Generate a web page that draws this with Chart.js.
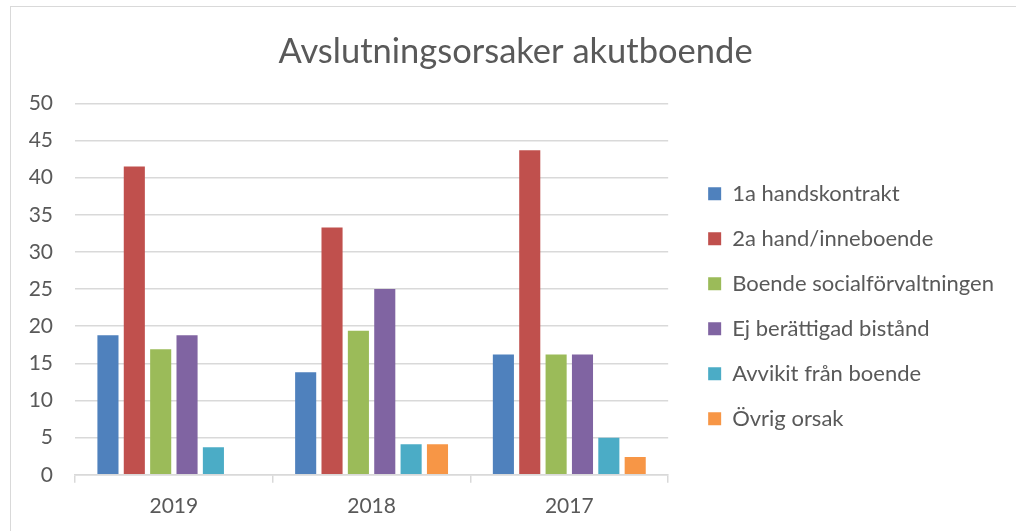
<!DOCTYPE html>
<html>
<head>
<meta charset="utf-8">
<script src="https://cdn.jsdelivr.net/npm/chart.js@4/dist/chart.umd.min.js"></script>
<style>
  html, body { margin: 0; padding: 0; background: #fff; }
  .frame {
    position: absolute;
    left: 10px;
    top: 6px;
    width: 1006px;
    height: 525px;
    border-left: 1px solid #d9d9d9;
    border-top: 1px solid #d9d9d9;
  }
  .wrap { position: absolute; left: 0; top: 0; width: 1016px; height: 531px; }
</style>
</head>
<body>
<div class="frame"></div>
<div class="wrap"><canvas id="chart"></canvas></div>
<script>
/* global Chart */

const years = ['2019', '2018', '2017']
const forstaHand = [18.8, 13.8, 16.2]
const andraHand = [41.5, 33.3, 43.7]
const boendeSoc = [16.9, 19.4, 16.2]
const ejBerattigad = [18.8, 25.0, 16.2]
const avvikit = [3.7, 4.1, 5.0]
const ovrig = [0, 4.1, 2.4]
const yTicks = [0, 5, 10, 15, 20, 25, 30, 35, 40, 45, 50]

const textColor = '#595959'
const gridColor = '#d9d9d9'
const fontFamily = 'Lato, "Open Sans", sans-serif'

const series = [
  { label: '1a handskontrakt', data: forstaHand, color: '#4f81bd' },
  { label: '2a hand/inneboende', data: andraHand, color: '#c0504d' },
  { label: 'Boende socialförvaltningen', data: boendeSoc, color: '#9bbb59' },
  { label: 'Ej berättigad bistånd', data: ejBerattigad, color: '#8064a2' },
  { label: 'Avvikit från boende', data: avvikit, color: '#4bacc6' },
  { label: 'Övrig orsak', data: ovrig, color: '#f79646' }
]

const ctx = document.getElementById('chart').getContext('2d')

const chart = new Chart(ctx, {
  type: 'bar',
  data: {
    labels: years,
    datasets: series.map((s) => ({
      label: s.label,
      data: s.data,
      backgroundColor: s.color,
      borderWidth: 0,
      categoryPercentage: 0.8,
      barPercentage: 0.8
    }))
  },
  options: {
    responsive: true,
    maintainAspectRatio: false,
    animation: false,
    layout: { padding: { left: 27, right: 12, top: 0, bottom: 1 } },
    plugins: {
      title: {
        display: true,
        text: 'Avslutningsorsaker akutboende',
        color: textColor,
        font: { family: fontFamily, size: 34.5, weight: 'normal' },
        padding: { top: 31, bottom: 31 }
      },
      legend: {
        position: 'right',
        align: 'start',
        fullSize: false,
        maxWidth: 420,
        title: { display: true, text: '', padding: 0, font: { size: 47 } },
        labels: {
          color: textColor,
          font: { family: fontFamily, size: 22 },
          boxWidth: 13,
          boxHeight: 13,
          padding: 23
        }
      },
      tooltip: { enabled: false }
    },
    scales: {
      x: {
        grid: {
          drawOnChartArea: false,
          color: gridColor,
          lineWidth: 1.5,
          tickLength: 8
        },
        border: { color: gridColor, width: 1.5 },
        ticks: {
          color: textColor,
          font: { family: fontFamily, size: 21 },
          padding: 11
        }
      },
      y: {
        min: 0,
        max: 50,
        afterBuildTicks: (axis) => {
          axis.ticks = yTicks.map((v) => ({ value: v }))
        },
        afterFit: (scale) => {
          scale.width = 48
        },
        grid: { color: gridColor, lineWidth: 1.5, drawTicks: false },
        border: { display: false },
        ticks: {
          color: textColor,
          font: { family: fontFamily, size: 21 },
          padding: 22
        }
      },
      gap: {
        position: 'right',
        display: true,
        grid: { display: false },
        border: { display: false },
        ticks: { display: false },
        afterFit: (scale) => {
          scale.width = 17
        }
      }
    }
  }
})
</script>
</body>
</html>
